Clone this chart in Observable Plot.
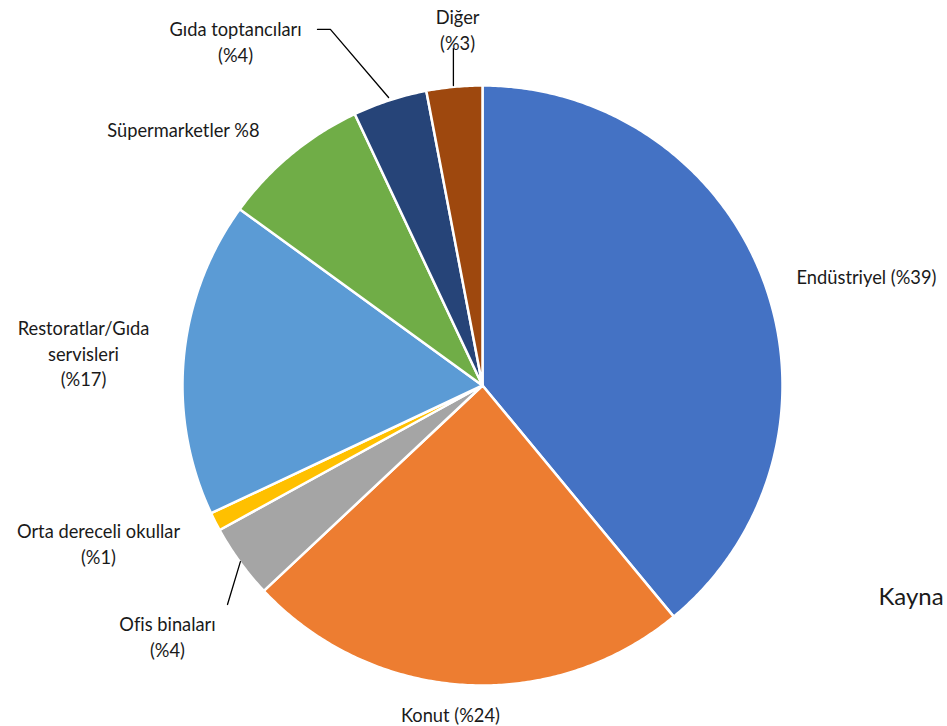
<!DOCTYPE html>
<html>
<head>
<meta charset="utf-8">
<script src="https://cdn.jsdelivr.net/npm/d3@7"></script>
<script src="https://cdn.jsdelivr.net/npm/@observablehq/plot@0.6"></script>
<style>
  html, body { margin: 0; padding: 0; background: #fff; }
  svg text { font-variant-ligatures: none; }
</style>
</head>
<body>
<div id="chart"></div>
<script>
// ---- data ----
const categories = ["Endüstriyel", "Konut", "Ofis binaları", "Orta dereceli okullar",
  "Restoratlar/Gıda servisleri", "Süpermarketler", "Gıda toptancıları", "Diğer"];
const values = [39, 24, 4, 1, 17, 8, 4, 3];
const labelTexts = ["Endüstriyel (%39)", "Konut (%24)", "Ofis binaları\n(%4)",
  "Orta dereceli okullar\n(%1)", "Restoratlar/Gıda\nservisleri\n(%17)",
  "Süpermarketler %8", "Gıda toptancıları\n(%4)", "Diğer\n(%3)"];
const sourceText = "Kayna";

// ---- styles / layout ----
const colors = ["#4472C4", "#ED7D31", "#A5A5A5", "#FFC000", "#5B9BD5", "#70AD47", "#264478", "#9E480E"];
// label anchor positions in units of the pie radius (center = 0,0)
const labelX = [1.28, -0.107, -1.05, -1.28, -1.33, -0.997, -0.823, -0.083];
const labelY = [0.367, -1.093, -0.835, -0.525, 0.11, 0.857, 1.15, 1.19];
const leaders = [
  {id: "Gıda", pts: [[-0.55, 1.187], [-0.507, 1.187], [-0.313, 0.96]]},
  {id: "Diğer", pts: [[-0.097, 1.123], [-0.097, 1.0]]},
  {id: "Ofis", pts: [[-0.85, -0.73], [-0.807, -0.587]]}
];

// ---- build pie polygons from values ----
const total = d3.sum(values);
const slices = [];
let acc = 0;
values.forEach((v, i) => {
  const a0 = acc / total * 2 * Math.PI;
  acc += v;
  const a1 = acc / total * 2 * Math.PI;
  slices.push({cat: categories[i], x: 0, y: 0});
  const n = Math.max(4, Math.ceil((a1 - a0) / (Math.PI / 360)));
  for (let k = 0; k <= n; k++) {
    const a = a0 + (a1 - a0) * k / n;
    slices.push({cat: categories[i], x: Math.sin(a), y: Math.cos(a)});
  }
});

const labels = categories.map((c, i) => ({text: labelTexts[i], x: labelX[i], y: labelY[i]}));
const leaderPts = leaders.flatMap(l => l.pts.map(p => ({id: l.id, x: p[0], y: p[1]})));

const font = "Lato, 'Open Sans', sans-serif";
const chart = Plot.plot({
  width: 947,
  height: 726,
  margin: 0,
  x: {domain: [-1, 1], range: [182, 782], axis: null},
  y: {domain: [-1, 1], range: [685, 85], axis: null},
  color: {type: "ordinal", domain: categories, range: colors},
  style: {fontFamily: font, background: "#fff"},
  marks: [
    Plot.line(slices, {x: "x", y: "y", z: "cat", fill: "cat", stroke: "white",
      strokeWidth: 2.5, curve: "linear-closed", strokeLinejoin: "round"}),
    Plot.line(leaderPts, {x: "x", y: "y", z: "id", stroke: "black", strokeWidth: 1.3}),
    Plot.text(labels, {x: "x", y: "y", text: "text", fontSize: 18.3, lineHeight: 1.4,
      fill: "#1a1a1a", textAnchor: "middle"}),
    Plot.text([{t: sourceText, x: 1.32, y: -0.707}], {x: "x", y: "y", text: "t",
      fontSize: 24, textAnchor: "start", fill: "#1a1a1a"})
  ]
});
document.getElementById("chart").appendChild(chart);
</script>
</body>
</html>
